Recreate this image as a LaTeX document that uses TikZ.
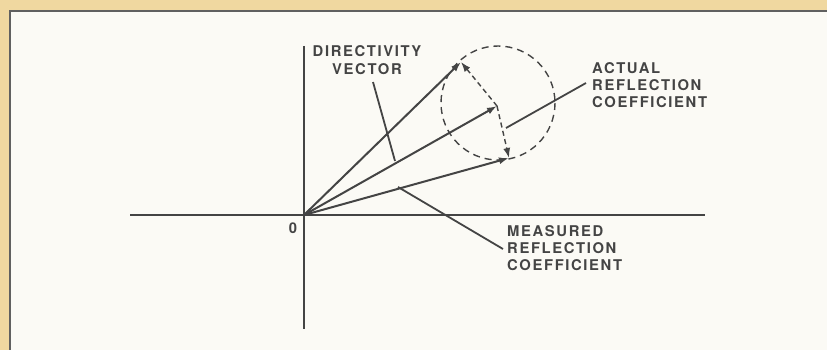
\documentclass[tikz,border=0pt]{standalone}
\usepackage{fontspec}
\setmainfont{TeX Gyre Heros}[LetterSpace=11]
\usetikzlibrary{arrows.meta}
\definecolor{tan}{RGB}{240,216,160}
\definecolor{paper}{RGB}{251,250,245}
\definecolor{ink}{RGB}{68,68,68}
\tikzset{
  vec/.style={draw=ink, line width=2pt, -{Latex[length=10pt,width=7pt]}},
  dvec/.style={draw=ink, line width=1.4pt, dash pattern=on 5pt off 3.5pt, -{Latex[length=10pt,width=7pt]}},
  axis/.style={draw=ink, line width=2pt},
  leader/.style={draw=ink, line width=1.8pt},
  lbl/.style={inner sep=0pt, text=ink, font=\fontsize{14.8}{17}\selectfont\bfseries, align=left},
}
\begin{document}
\begin{tikzpicture}[x=1pt,y=-1pt]
\useasboundingbox (0,0) rectangle (827,350);
\fill[tan] (0,0) rectangle (827,350);
\fill[paper] (10,11) rectangle (827,350);
\draw[ink!85, line width=2.2pt] (10,350) -- (10,11) -- (827,11);
% axes
\coordinate (O) at (304,215);
\coordinate (xl) at (130,215);
\coordinate (xr) at (705,215);
\coordinate (yt) at (304,46);
\coordinate (yb) at (304,329);
\draw[axis] (xl) -- (xr);
\draw[axis] (yt) -- (yb);
\node[lbl, anchor=center] (zero) at (293,228) {0};
% circle and points
\coordinate (C) at (498,103);
\draw[ink, line width=1.4pt, dash pattern=on 7pt off 5pt] (C) circle (57);
\coordinate (A) at (497,106);
\coordinate (U) at (461,62);
\coordinate (L) at (509,158);
\draw[vec] (O) -- (U);
\draw[vec] (O) -- (A);
\draw[vec] (O) -- (L);
\draw[dvec] (A) -- (U);
\draw[dvec] (A) -- (L);
% labels
\node[lbl, anchor=north, align=center] (dv) at (367,45) {DIRECTIVITY\\[1pt]VECTOR};
\node[lbl, anchor=north west] (act) at (592,62) {ACTUAL\\[0pt]REFLECTION\\[0pt]COEFFICIENT};
\node[lbl, anchor=north west] (meas) at (507,225) {MEASURED\\[0pt]REFLECTION\\[0pt]COEFFICIENT};
% leaders
\coordinate (dv1) at (373,82);
\coordinate (dv2) at (395,161);
\draw[leader] (dv1) -- (dv2);
\coordinate (ac1) at (506,128);
\coordinate (ac2) at (586,83);
\draw[leader] (ac1) -- (ac2);
\coordinate (me1) at (398,187);
\coordinate (me2) at (503,249);
\draw[leader] (me1) -- (me2);
\end{tikzpicture}
\end{document}
